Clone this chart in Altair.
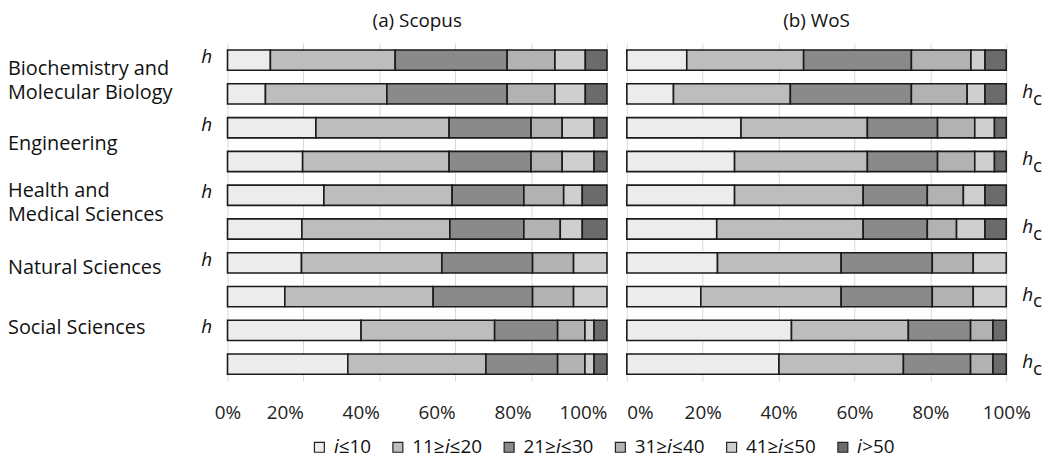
import altair as alt
import pandas as pd

fields = ["Biochemistry and Molecular Biology", "Engineering",
          "Health and Medical Sciences", "Natural Sciences", "Social Sciences"]
label_lines = [["Biochemistry and", "Molecular Biology"], ["Engineering"],
               ["Health and", "Medical Sciences"], ["Natural Sciences"], ["Social Sciences"]]
# row position (in bar-row units) of each label's first line
label_rows = [0.27, 2.47, 3.88, 6.15, 7.94]
metrics = ["h", "hc"]
bins = ["𝑖≤10", "11≥𝑖≤20", "21≥𝑖≤30", "31≥𝑖≤40", "41≥𝑖≤50", "𝑖>50"]
colors = ["#ececec", "#bdbdbd", "#8a8a8a", "#b2b2b2", "#cfcfcf", "#6b6b6b"]

# shares (%) per bin, one list per field
scopus_h = [
    [11.3, 32.9, 29.5, 12.6, 8.0, 5.7],
    [23.3, 35.1, 21.6, 8.2, 8.4, 3.4],
    [25.4, 33.8, 18.9, 10.5, 4.9, 6.5],
    [19.5, 37.0, 23.9, 10.8, 8.8, 0.0],
    [35.2, 35.2, 16.6, 7.2, 2.4, 3.4],
]
scopus_hc = [
    [10.0, 32.0, 31.7, 12.6, 8.0, 5.7],
    [19.8, 38.6, 21.6, 8.2, 8.4, 3.4],
    [19.6, 39.0, 19.5, 9.6, 5.8, 6.5],
    [15.1, 39.1, 26.2, 10.8, 8.8, 0.0],
    [31.7, 36.4, 18.9, 7.2, 2.4, 3.4],
]
wos_h = [
    [15.8, 30.8, 28.4, 15.7, 3.7, 5.6],
    [30.1, 33.3, 18.5, 9.8, 5.2, 3.1],
    [28.4, 33.9, 16.9, 9.5, 5.7, 5.6],
    [23.9, 32.6, 24.0, 10.8, 8.7, 0.0],
    [43.4, 30.8, 16.4, 5.9, 0.0, 3.5],
]
wos_hc = [
    [12.3, 30.8, 31.9, 14.7, 4.7, 5.6],
    [28.4, 35.0, 18.5, 9.8, 5.2, 3.1],
    [23.7, 38.6, 16.9, 7.7, 7.5, 5.6],
    [19.5, 37.0, 24.0, 10.8, 8.7, 0.0],
    [40.1, 32.8, 17.7, 5.9, 0.0, 3.5],
]

FONT = "Open Sans"


def long_table(h_vals, hc_vals):
    recs = []
    for fi, f in enumerate(fields):
        for mi, vals in enumerate([h_vals[fi], hc_vals[fi]]):
            row = fi * 2 + mi
            for bi, v in enumerate(vals):
                if v > 0:
                    recs.append(dict(field=f, metric=metrics[mi], row=row,
                                     bin=bins[bi], order=bi, value=v))
    return pd.DataFrame(recs)


yscale = alt.Scale(domain=[-0.5, 9.5], reverse=True, nice=False, zero=False)


def panel(df, title, legend, first):
    if first:
        lalign = {"condition": {"test": "datum.value == 0", "value": "center"}, "value": "right"}
    else:
        lalign = {"condition": {"test": "datum.value == 0", "value": "left"}, "value": "center"}
    xaxis = alt.Axis(values=[0, 20, 40, 60, 80, 100], labelExpr="datum.value + '%'",
                     grid=True, gridColor="#d9d9d9", gridWidth=1, domain=False,
                     ticks=False, labelFontSize=19, labelFont=FONT, labelColor="#222",
                     labelPadding=23, title=None, labelAlign=lalign)
    bars = alt.Chart(df).transform_stack(
        stack="value", groupby=["row"], as_=["x0", "x1"],
        sort=[alt.SortField("order", order="ascending")]
    ).transform_calculate(
        y0="datum.row - 0.3", y1="datum.row + 0.3"
    ).mark_rect(stroke="#1a1a1a", strokeWidth=1.6).encode(
        x=alt.X("x0:Q", scale=alt.Scale(domain=[0, 100], nice=False), axis=xaxis),
        x2="x1:Q",
        y=alt.Y("y0:Q", scale=yscale, axis=None),
        y2="y1:Q",
        color=alt.Color("bin:N", scale=alt.Scale(domain=bins, range=colors), legend=legend),
    )
    layers = [bars]
    if first:
        hdf = pd.DataFrame({"row": [i * 2 for i in range(len(fields))], "t": ["h"] * len(fields)})
        hl = alt.Chart(hdf).mark_text(fontStyle="italic", fontSize=19, font=FONT, color="#111",
                                      align="center", baseline="middle", dy=-3).encode(
            x=alt.value(-21), y=alt.Y("row:Q", scale=yscale), text="t:N")
        cdf = pd.DataFrame({"row": label_rows, "t": label_lines})
        cl = alt.Chart(cdf).mark_text(fontSize=20, font=FONT, color="#111", align="left",
                                      baseline="middle", lineHeight=24).encode(
            x=alt.value(-221), y=alt.Y("row:Q", scale=yscale), text="t")
        layers += [hl, cl]
    else:
        hdf = pd.DataFrame({"row": [i * 2 + 1 for i in range(len(fields))],
                            "h": ["h"] * len(fields), "c": ["c"] * len(fields)})
        hl = alt.Chart(hdf).mark_text(fontStyle="italic", fontSize=19, font=FONT, color="#111",
                                      align="left", baseline="middle", dy=-2).encode(
            x=alt.value(398), y=alt.Y("row:Q", scale=yscale), text="h:N")
        cl = alt.Chart(hdf).mark_text(fontSize=19, font=FONT, color="#111",
                                      align="left", baseline="middle", dy=5).encode(
            x=alt.value(409), y=alt.Y("row:Q", scale=yscale), text="c:N")
        layers += [hl, cl]
    return alt.layer(*layers).properties(
        width=382, height=340,
        title=alt.TitleParams(title, fontSize=19, font=FONT, fontWeight="normal",
                              color="#111", offset=12, anchor="middle"))


legend = alt.Legend(orient="none", legendX=-319, legendY=397, direction="horizontal",
                    title=None, symbolType="square", symbolSize=100, symbolStrokeColor="#222",
                    symbolStrokeWidth=1.2, symbolOpacity=1, labelFontSize=19, labelFont=FONT,
                    labelColor="#111", labelOffset=5, columnPadding=17, labelLimit=200)

left = panel(long_table(scopus_h, scopus_hc), "(a) Scopus", None, True)
right = panel(long_table(wos_h, wos_hc), "(b) WoS", legend, False)

chart = alt.hconcat(left, right, spacing=20, bounds="flush").resolve_scale(
    color="independent"
).properties(padding={"top": 3, "left": 0, "right": 0, "bottom": 0}).configure_view(stroke=None)

chart.save("out.html", embed_options={"renderer": "svg", "actions": False})
